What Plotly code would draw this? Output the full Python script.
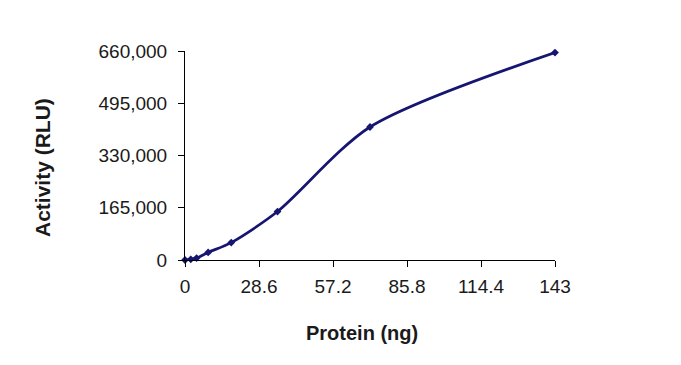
import plotly.graph_objects as go

protein_ng = [0, 2.23, 4.47, 8.94, 17.875, 35.75, 71.5, 143]
activity_rlu = [0, 2000, 6000, 24000, 55000, 153000, 420000, 655000]
x_ticks = [0, 28.6, 57.2, 85.8, 114.4, 143]
x_tick_labels = ["0", "28.6", "57.2", "85.8", "114.4", "143"]
y_ticks = [0, 165000, 330000, 495000, 660000]
y_tick_labels = ["0", "165,000", "330,000", "495,000", "660,000"]
x_title = "Protein (ng)"
y_title = "Activity (RLU)"

color = "#161672"
fig = go.Figure(go.Scatter(
    x=protein_ng, y=activity_rlu, mode="lines+markers",
    line=dict(color=color, width=2.7, shape="spline", smoothing=0.8),
    marker=dict(symbol="diamond", size=6, color=color),
    cliponaxis=False,
))

font = "Liberation Sans, Arial, sans-serif"
L, T, W, H = 177, 43, 370, 209
fig.update_layout(
    width=681, height=365,
    margin=dict(l=L, r=681 - L - W, t=T, b=365 - T - H),
    paper_bgcolor="white", plot_bgcolor="white",
    showlegend=False,
    font=dict(family=font, size=19, color="#1a1a1a"),
    xaxis=dict(
        range=[0, 143], tickvals=x_ticks, ticktext=x_tick_labels,
        showgrid=False, zeroline=False, showline=True, linecolor="black", linewidth=1,
        ticks="outside", ticklen=6, tickcolor="black", ticklabelstandoff=3,
    ),
    yaxis=dict(
        range=[0, 660000], tickvals=y_ticks, ticktext=y_tick_labels,
        showgrid=False, zeroline=False, showline=True, linecolor="black", linewidth=1,
        ticks="outside", ticklen=6, tickcolor="black", ticklabelstandoff=7,
    ),
    annotations=[
        dict(text="<b>" + x_title + "</b>", xref="paper", yref="paper",
             x=(362 - 8 - L) / W, y=-(333 - 8 - (T + H)) / H,
             xanchor="center", yanchor="middle", showarrow=False,
             font=dict(size=20, color="#1a1a1a")),
        dict(text="<b>" + y_title + "</b>", xref="paper", yref="paper",
             x=(42 - 8 - L) / W, y=((T + H) - (168 - 8)) / H, textangle=-90,
             xanchor="center", yanchor="middle", showarrow=False,
             font=dict(size=21, color="#1a1a1a")),
    ],
)
fig.write_html("out.html")
